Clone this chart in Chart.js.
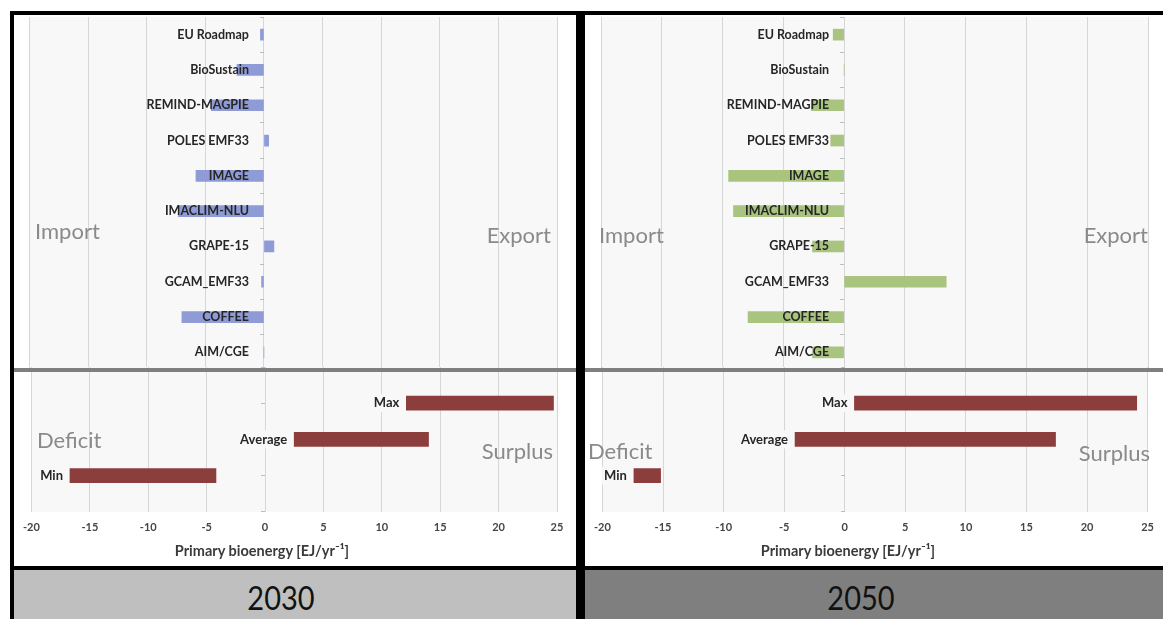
<!DOCTYPE html>
<html>
<head>
<meta charset="utf-8">
<script src="https://cdn.jsdelivr.net/npm/chart.js@4.4.1/dist/chart.umd.min.js"></script>
<style>
  html, body { margin: 0; padding: 0; width: 1163px; height: 619px; overflow: hidden; background: #fff; font-family: Lato, "Open Sans", sans-serif; }
  .abs { position: absolute; }
  canvas.abs { display: block; }
  .note { position: absolute; font-size: 22px; line-height: 22px; color: #8a8a8a; white-space: nowrap; z-index: 10; }
  .axtitle { position: absolute; width: 300px; text-align: center; font-size: 14.5px; font-weight: bold; color: #3a3a3a; line-height: 18px; white-space: nowrap; z-index: 10; }
  .year { position: absolute; font-size: 29px; line-height: 40px; color: #111; white-space: nowrap; text-align: center; width: 200px; z-index: 10; transform: scaleY(1.15); }
</style>
</head>
<body>
<!-- frames -->
<div class="abs" style="left:10px;top:11px;width:1153px;height:608px;background:#000;"></div>
<div class="abs" style="left:14px;top:15px;width:562px;height:551px;background:#fff;"></div>
<div class="abs" style="left:585px;top:15px;width:578px;height:551px;background:#fff;"></div>
<div class="abs" style="left:14px;top:570px;width:562px;height:49px;background:#bfbfbf;"></div>
<div class="abs" style="left:585px;top:570px;width:578px;height:49px;background:#7f7f7f;"></div>

<canvas id="topL" class="abs" width="562" height="355" style="left:14px;top:15px;"></canvas>
<canvas id="topR" class="abs" width="578" height="355" style="left:585px;top:15px;"></canvas>
<canvas id="botL" class="abs" width="562" height="201" style="left:14px;top:365px;"></canvas>
<canvas id="botR" class="abs" width="578" height="201" style="left:585px;top:365px;"></canvas>

<div class="abs" style="left:14px;top:368px;width:562px;height:4px;background:#7f7f7f;z-index:5;"></div>
<div class="abs" style="left:585px;top:368px;width:578px;height:4px;background:#7f7f7f;z-index:5;"></div>

<div class="note" style="left:35px;top:220px;">Import</div>
<div class="note" style="right:612px;top:224px;">Export</div>
<div class="note" style="left:599px;top:224px;">Import</div>
<div class="note" style="right:15px;top:224px;">Export</div>
<div class="note" style="left:37px;top:429px;">Deficit</div>
<div class="note" style="right:610px;top:440px;">Surplus</div>
<div class="note" style="left:588px;top:440px;">Deficit</div>
<div class="note" style="right:13px;top:442px;">Surplus</div>

<div class="axtitle" style="left:112px;top:542px;">Primary bioenergy [EJ/yr⁻¹]</div>
<div class="axtitle" style="left:698px;top:542px;">Primary bioenergy [EJ/yr⁻¹]</div>

<div class="year" style="left:181px;top:577px;">2030</div>
<div class="year" style="left:761px;top:577px;">2050</div>

<script>
// ---- data ----
const modelNames = ['EU Roadmap', 'BioSustain', 'REMIND-MAGPIE', 'POLES EMF33', 'IMAGE',
                    'IMACLIM-NLU', 'GRAPE-15', 'GCAM_EMF33', 'COFFEE', 'AIM/CGE'];
const netTrade2030 = [-0.3, -2.3, -4.5, 0.4, -5.8, -7.3, 0.85, -0.2, -7.0, 0];
const netTrade2050 = [-0.9, 0, -2.7, -1.1, -9.5, -9.1, -2.6, 8.4, -7.9, -2.6];
const rangeLabels = ['Max', 'Average', 'Min'];
const rangeLow2030 = [12.1, 2.5, -16.7];
const rangeHigh2030 = [24.7, 14.0, -4.2];
const rangeLow2050 = [0.8, -4.1, -17.4];
const rangeHigh2050 = [24.1, 17.4, -15.2];
const xMin = -20, xMax = 25, xStep = 5;

const FONT = 'Lato, "Open Sans", sans-serif';
Chart.defaults.font.family = FONT;

const plotBg = {
  id: 'plotBg',
  beforeDraw(chart) {
    const { ctx, chartArea: a } = chart;
    ctx.save();
    ctx.fillStyle = '#f8f8f8';
    ctx.fillRect(a.left, a.top, a.right - a.left, a.bottom - a.top);
    ctx.restore();
  }
};

// category names drawn next to the zero line, on top of the bars
const modelLabels = {
  id: 'modelLabels',
  afterDatasetsDraw(chart) {
    const ctx = chart.ctx;
    const xs = chart.scales.x, ys = chart.scales.y;
    const x0 = xs.getPixelForValue(0) - 15;
    ctx.save();
    ctx.font = 'bold 12.5px ' + FONT;
    ctx.textAlign = 'right';
    ctx.textBaseline = 'middle';
    ctx.fillStyle = '#262626';
    modelNames.forEach((name, i) => ctx.fillText(name, x0, ys.getPixelForValue(i)));
    ctx.restore();
  }
};

const rangeBarLabels = {
  id: 'rangeBarLabels',
  afterDatasetsDraw(chart) {
    const meta = chart.getDatasetMeta(0);
    const ctx = chart.ctx;
    ctx.save();
    ctx.font = 'bold 13px ' + FONT;
    ctx.textAlign = 'right';
    ctx.textBaseline = 'middle';
    meta.data.forEach((el, i) => {
      const left = Math.min(el.x, el.base);
      const text = rangeLabels[i];
      const w = ctx.measureText(text).width;
      const x = left - 7;
      ctx.fillStyle = '#f8f8f8';
      ctx.fillRect(x - w - 2, el.y - 9, w + 4, 18);
      ctx.fillStyle = '#262626';
      ctx.fillText(text, x, el.y);
    });
    ctx.restore();
  }
};

function topChart(id, values, color, padL, padR) {
  new Chart(document.getElementById(id), {
    type: 'bar',
    data: { labels: modelNames, datasets: [{ data: values, backgroundColor: color, barThickness: 11 }] },
    options: {
      indexAxis: 'y', responsive: false, animation: false, devicePixelRatio: 1,
      layout: { padding: { left: padL, right: padR, top: 2, bottom: 0 } },
      plugins: { legend: { display: false }, tooltip: { enabled: false } },
      scales: {
        x: { type: 'linear', min: xMin, max: xMax,
             ticks: { display: false, stepSize: xStep },
             grid: { color: '#d6d6d6', drawTicks: false }, border: { display: false } },
        y: { position: { x: 0 },
             grid: { drawOnChartArea: false, drawTicks: true, tickLength: 4, color: '#bdbdbd' },
             border: { display: false },
             ticks: { display: false } }
      }
    },
    plugins: [plotBg, modelLabels]
  });
}

function bottomChart(id, low, high, padL, padR) {
  new Chart(document.getElementById(id), {
    type: 'bar',
    data: {
      datasets: [{
        data: rangeLabels.map((_, i) => ({ y: rangeLabels.length - i, x: [low[i], high[i]] })),
        backgroundColor: '#8c3e3c', barThickness: 14
      }]
    },
    options: {
      indexAxis: 'y', responsive: false, animation: false, devicePixelRatio: 1,
      layout: { padding: { left: padL, right: padR, top: 2, bottom: 23 } },
      plugins: { legend: { display: false }, tooltip: { enabled: false } },
      scales: {
        x: { type: 'linear', min: xMin, max: xMax,
             ticks: { stepSize: xStep, font: { size: 11, weight: 'bold' }, color: '#454545', padding: 9 },
             grid: { color: '#d6d6d6', drawTicks: false }, border: { display: false } },
        y: { type: 'linear', min: 0, max: rangeLabels.length + 1, position: { x: 0 }, offset: false,
             ticks: { display: false, stepSize: 1 },
             grid: { offset: false, drawOnChartArea: false, drawTicks: true, tickLength: 4, color: '#bdbdbd' },
             border: { display: false } }
      }
    },
    plugins: [plotBg, rangeBarLabels]
  });
}

topChart('topL', netTrade2030, '#8f9bd6', 15.5, 19);
topChart('topR', netTrade2050, '#a9c47f', 16, 15);
bottomChart('botL', rangeLow2030, rangeHigh2030, 15.5, 19);
bottomChart('botR', rangeLow2050, rangeHigh2050, 16, 15);
</script>
</body>
</html>
